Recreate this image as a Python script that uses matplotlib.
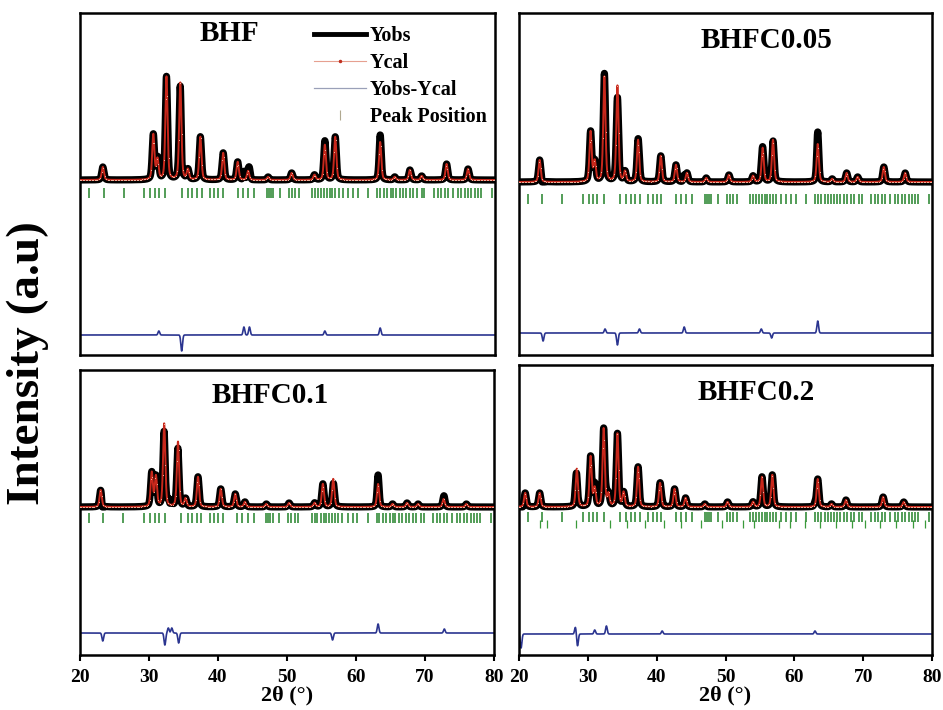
"""
Rietveld refinement plots for BHF, BHFC0.05, BHFC0.1, BHFC0.2 (2x2 panels).
Writes out.png.
"""

import matplotlib.pyplot as plt
import numpy as np
from matplotlib.lines import Line2D

plt.rcParams["font.family"] = ["Liberation Serif", "DejaVu Serif"]
plt.rcParams["font.weight"] = "bold"

# --- data (2theta in deg, heights in px above background) ---
names = ["BHF", "BHFC0.05", "BHFC0.1", "BHFC0.2"]

bhf_pos = [23.3, 30.6, 31.2, 32.5, 34.5, 35.6, 37.4, 40.7, 42.8, 44.3, 47.2,
           50.6, 53.9, 55.4, 56.9, 63.4, 65.5, 67.7, 69.4, 73.0, 76.1]
bhf_h = [13, 45, 20, 103, 97, 10, 43, 27, 18, 9, 3, 7, 5, 35, 43, 38, 3, 10, 4, 16, 11]

c05_pos = [23.0, 30.4, 31.0, 32.4, 34.3, 35.4, 37.3, 40.6, 42.8, 44.4, 47.2,
           50.5, 54.0, 55.4, 56.9, 63.4, 65.5, 67.6, 69.2, 73.0, 76.1]
c05_h = [22, 50, 20, 105, 96, 10, 42, 26, 17, 9, 4, 7, 6, 34, 42, 38, 3, 9, 5, 15, 9]

c10_pos = [23.0, 30.4, 31.0, 32.2, 34.2, 35.3, 37.1, 40.4, 42.5, 43.9, 47.0,
           50.3, 54.0, 55.2, 56.7, 63.2, 65.3, 67.4, 69.0, 72.7, 76.0]
c10_h = [17, 34, 30, 83, 65, 8, 30, 18, 13, 5, 3, 4, 4, 23, 28, 23, 3, 4, 3, 8, 3]

c20_pos = [20.9, 23.0, 28.4, 30.4, 31.0, 32.3, 33.0, 34.3, 35.2, 37.3, 40.5,
           42.6, 44.2, 47.0, 50.3, 54.0, 55.3, 56.8, 63.4, 65.4, 67.5, 72.9, 75.9]
c20_h = [14, 14, 38, 50, 18, 78, 12, 73, 14, 40, 24, 18, 9, 3, 5, 5, 30, 32, 28,
         3, 7, 10, 5]

# Yobs - Ycal spikes
bhf_dpos = [31.4, 34.7, 43.7, 44.5, 55.4, 63.4]
bhf_damp = [4, -16, 8, 8, 4, 7]
c05_dpos = [23.5, 32.5, 34.3, 37.5, 44.0, 55.2, 56.7, 63.4]
c05_damp = [-8, 4, -12, 4, 6, 4, -5, 12]
c10_dpos = [23.3, 32.3, 32.8, 33.3, 34.3, 56.6, 63.2, 72.8]
c10_damp = [-8, -12, 5, 5, -10, -7, 9, 4]
c20_dpos = [20.3, 28.2, 28.5, 31.0, 32.7, 40.8, 63.0]
c20_damp = [-14, 7, -12, 4, 8, 3, 3]

# Bragg reflection positions (hexaferrite phase)
refl_pos = [21.25, 23.4, 26.3, 29.3, 30.1, 30.8, 31.4, 32.3, 34.7, 35.6, 36.2,
            36.9, 37.6, 38.8, 39.4, 40.0, 40.7, 42.8, 43.5, 44.3, 45.2, 47.0,
            47.3, 47.6, 47.9, 48.9, 50.2, 50.6, 51.1, 51.6, 53.6, 54.0, 54.4,
            54.9, 55.3, 55.7, 56.1, 56.5, 56.9, 57.4, 58.0, 58.8, 59.5, 60.2,
            61.7, 63.0, 63.4, 63.9, 64.4, 64.9, 65.3, 65.7, 66.2, 66.7, 67.2,
            67.7, 68.2, 68.7, 69.4, 69.8, 71.2, 71.7, 72.2, 72.7, 73.2, 73.9,
            74.6, 75.1, 75.6, 76.1, 76.6, 77.1, 77.6, 78.0, 79.5]
# second phase reflections seen only in BHFC0.2
refl2_pos = [23.1, 24.1, 28.3, 33.2, 35.7, 38.3, 41.0, 43.6, 46.4, 49.5, 52.5,
             54.2, 57.7, 59.4, 61.5, 63.8, 66.0, 68.4, 70.2, 72.5, 74.8, 77.2, 79.0]

# --- layout (figure px -> per-panel settings) ---
W, H = 943, 710
boxes = [(80, 13, 495, 355), (519, 13, 932, 355), (80, 370, 494, 655), (519, 365, 932, 655)]
base_y = [180, 182, 507, 507]      # background level (px from top)
tick_y = [193, 199, 518, 517]      # reflection tick centre
diff_y = [335, 333, 633, 634]      # difference curve level
title_xy = [(0.36, 0.94), (0.60, 0.92), (0.46, 0.91), (0.575, 0.905)]

peaks = [(bhf_pos, bhf_h), (c05_pos, c05_h), (c10_pos, c10_h), (c20_pos, c20_h)]
diffs = [(bhf_dpos, bhf_damp), (c05_dpos, c05_damp), (c10_dpos, c10_damp), (c20_dpos, c20_damp)]

x = np.linspace(20, 80, 4001)


def profile(pos, h, fwhm=0.38):
    y = np.zeros_like(x)
    g = fwhm / 2.355
    for p, a in zip(pos, h):
        lor = 1.0 / (1.0 + ((x - p) / (fwhm / 2)) ** 2)
        gau = np.exp(-0.5 * ((x - p) / g) ** 2)
        y += a * (0.6 * gau + 0.4 * lor)
    return y


def spikes(pos, amp, w=0.12):
    y = np.zeros_like(x)
    for p, a in zip(pos, amp):
        y += a * np.exp(-0.5 * ((x - p) / w) ** 2)
    return y


fig = plt.figure(figsize=(W / 100, H / 100), dpi=100)

for i, (x0, y0, x1, y1) in enumerate(boxes):
    ax = fig.add_axes([x0 / W, 1 - y1 / H, (x1 - x0) / W, (y1 - y0) / H])
    hpx = y1 - y0
    base = y1 - base_y[i]
    peak_part = profile(*peaks[i])
    calc = base + peak_part
    d = spikes(*diffs[i])
    obs = calc + np.maximum(d, -peak_part)

    ax.plot(x, obs, color="black", lw=5.2, solid_joinstyle="round", zorder=2)
    ax.plot(x, calc, color="#c8281c", lw=1.4, zorder=3)
    ax.plot(x, calc, linestyle="none", marker=".", ms=1.4, mew=0,
            color="#f4b8a0", markevery=14, zorder=4)

    ty = y1 - tick_y[i]
    ax.vlines(refl_pos, ty - 5, ty + 5, color="#23832a", lw=1.1, zorder=2)
    if i == 3:
        ax.vlines(refl2_pos, ty - 11, ty - 3, color="#3a9a3a", lw=0.9, zorder=2)

    ax.plot(x, (y1 - diff_y[i]) + d, color="#2b3590", lw=1.2, zorder=2)

    ax.set_xlim(20, 80)
    ax.set_ylim(0, hpx)
    ax.set_yticks([])
    for s in ax.spines.values():
        s.set_linewidth(1.8)
    if i < 2:
        ax.set_xticks([])
    else:
        ax.set_xticks(np.arange(20, 81, 10))
        ax.tick_params(axis="x", direction="out", length=4, width=1.5,
                       labelsize=14, pad=6)
        for lab in ax.get_xticklabels():
            lab.set_fontweight("bold")
        ax.set_xlabel("2θ (°)", fontsize=16, fontweight="bold", labelpad=0)

    tx, tyy = title_xy[i]
    ax.text(tx, tyy, names[i], transform=ax.transAxes, ha="center", va="center",
            fontsize=21, fontweight="bold")

    if i == 0:
        handles = [
            Line2D([], [], color="black", lw=3.5),
            Line2D([], [], color="#e6a090", lw=0.8, marker=".", ms=3,
                   mfc="#c03020", mec="#c03020"),
            Line2D([], [], color="#9aa0b8", lw=0.9),
            Line2D([], [], color="#b0a890", lw=0, marker="|", ms=7, mew=0.8),
        ]
        ax.legend(handles, ["Yobs", "Ycal", "Yobs-Ycal", "Peak Position"],
                  loc="upper right", frameon=False,
                  prop={"weight": "bold", "size": 14.5}, handlelength=2.6,
                  handletextpad=0.2, labelspacing=0.34, borderaxespad=0.0,
                  bbox_to_anchor=(1.0, 0.985))

fig.text(28 / W, 1 - 363 / H, "Intensity (a.u)", rotation=90, ha="center",
         va="center", fontsize=34, fontweight="bold")

fig.savefig("out.png", dpi=100)
